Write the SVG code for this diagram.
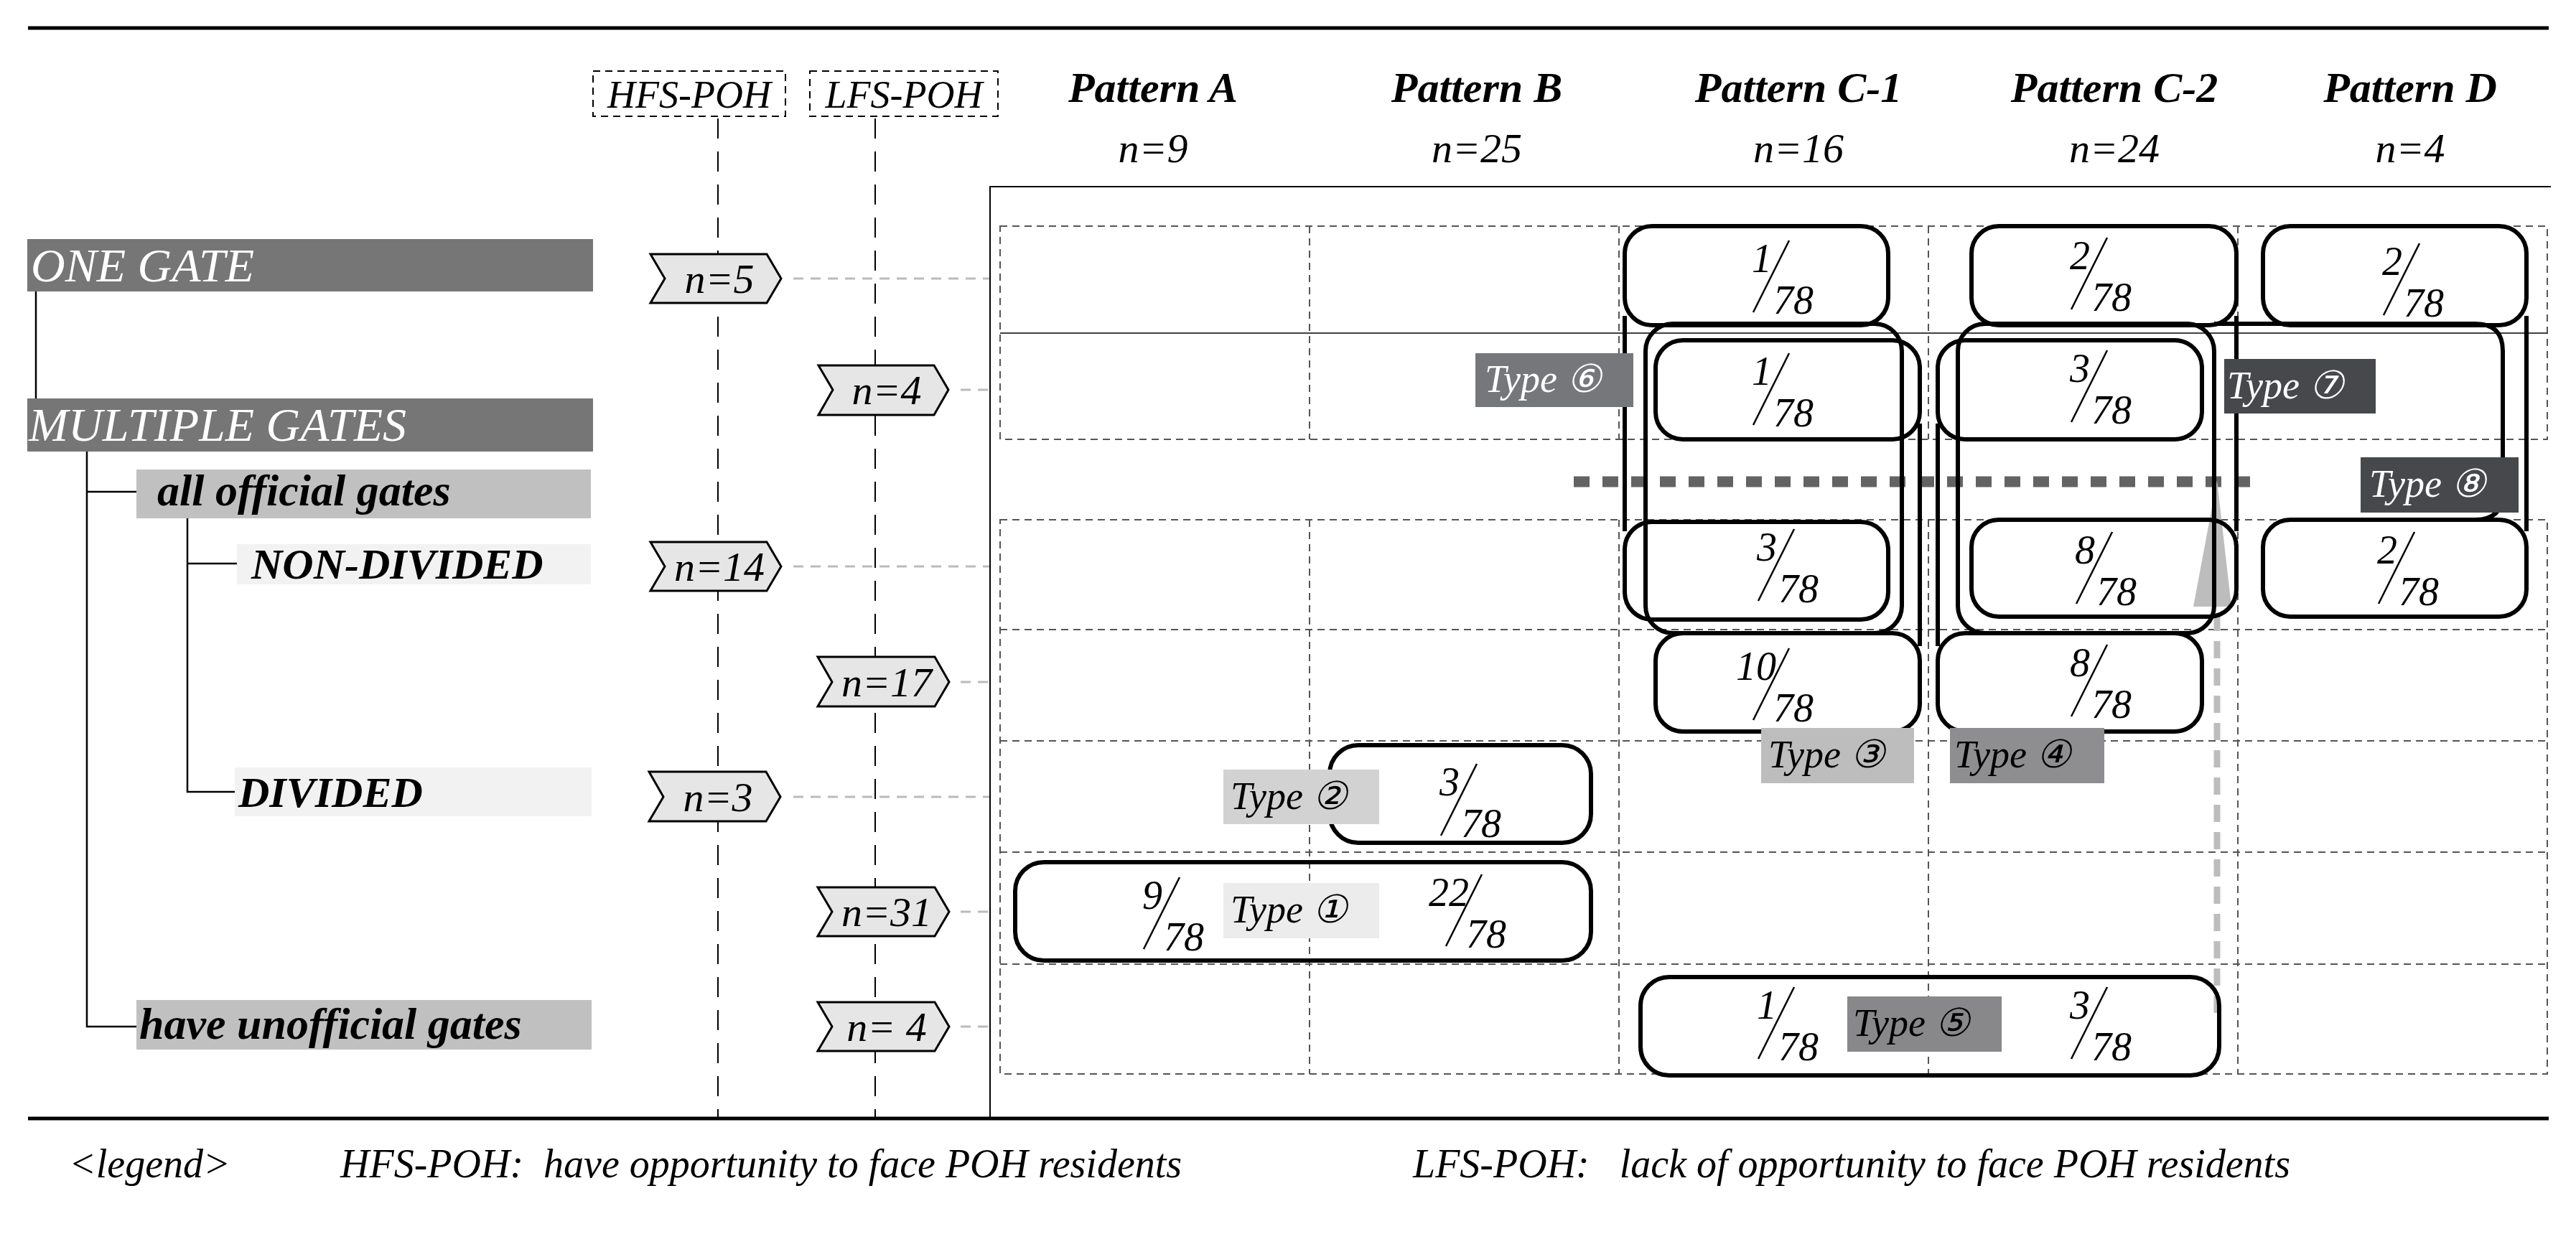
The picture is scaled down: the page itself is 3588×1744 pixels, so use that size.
<svg xmlns="http://www.w3.org/2000/svg" width="3588" height="1744" viewBox="0 0 3588 1744">
<defs>
<style>
text{font-family:"Liberation Serif","DejaVu Serif",serif;font-style:italic}
.hd{font-size:60px;font-weight:bold;text-anchor:middle}
.hn{font-size:58px;text-anchor:middle}
.grid{fill:none;stroke:#555;stroke-width:2;stroke-dasharray:10,7}
.box{fill:none;stroke:#000;stroke-width:6}
.chev{fill:#e6e6e6;stroke:#000;stroke-width:3}
.ct{font-size:58px;text-anchor:middle}
.lead{stroke:#bbb;stroke-width:3;stroke-dasharray:14,10}
.fr{font-size:56px}
.sl{stroke:#000;stroke-width:2.5}
.tl{font-size:54px}
.tree{stroke:#000;stroke-width:2.5;fill:none}
</style>
</defs>
<rect width="3588" height="1744" fill="#fff"/>
<line x1="39" y1="39" x2="3550" y2="39" stroke="#000" stroke-width="5"/>
<line x1="39" y1="1558" x2="3550" y2="1558" stroke="#000" stroke-width="5"/>

<g id="headers">
<rect x="826" y="99" width="268" height="63" fill="none" stroke="#000" stroke-width="2" stroke-dasharray="10,7"/>
<text x="960" y="150" font-size="54" text-anchor="middle">HFS-POH</text>
<rect x="1128" y="99" width="262" height="63" fill="none" stroke="#000" stroke-width="2" stroke-dasharray="10,7"/>
<text x="1259" y="150" font-size="54" text-anchor="middle">LFS-POH</text>
<line x1="1000" y1="165" x2="1000" y2="1556" stroke="#000" stroke-width="2" stroke-dasharray="28,18"/>
<line x1="1219" y1="165" x2="1219" y2="1556" stroke="#000" stroke-width="2" stroke-dasharray="28,18"/>
<text class="hd" x="1606" y="142">Pattern A</text><text class="hn" x="1606" y="226">n=9</text>
<text class="hd" x="2057" y="142">Pattern B</text><text class="hn" x="2057" y="226">n=25</text>
<text class="hd" x="2505" y="142">Pattern C-1</text><text class="hn" x="2505" y="226">n=16</text>
<text class="hd" x="2945" y="142">Pattern C-2</text><text class="hn" x="2945" y="226">n=24</text>
<text class="hd" x="3357" y="142">Pattern D</text><text class="hn" x="3357" y="226">n=4</text>
</g>

<g id="tree">
<path class="tree" d="M50,406 V555 M121,629 V1430 H190 M121,685 H190 M261,722 V1103 H327 M261,785 H330"/>
<g id="one-gate"><rect x="38" y="333" width="788" height="73" fill="#767676"/><text x="43" y="392" font-size="66" fill="#fff">ONE GATE</text></g>
<g id="multiple-gates"><rect x="38" y="555" width="788" height="74" fill="#767676"/><text x="40" y="614" font-size="66" fill="#fff">MULTIPLE GATES</text></g>
<g id="all-official"><rect x="190" y="654" width="633" height="68" fill="#c0c0c0"/><text x="219" y="704" font-size="62" font-weight="bold">all official gates</text></g>
<g id="non-divided"><rect x="330" y="758" width="493" height="56" fill="#f2f2f2"/><text x="350" y="806" font-size="60" font-weight="bold">NON-DIVIDED</text></g>
<g id="divided"><rect x="327" y="1069" width="497" height="68" fill="#f2f2f2"/><text x="332" y="1124" font-size="60" font-weight="bold">DIVIDED</text></g>
<g id="unofficial"><rect x="190" y="1393" width="634" height="69" fill="#c0c0c0"/><text x="194" y="1447" font-size="62" font-weight="bold">have unofficial gates</text></g>
</g>

<g id="chevrons">
<g id="c1"><line class="lead" x1="1105" y1="388" x2="1380" y2="388"/><polygon class="chev" points="906,354 1068,354 1088,388 1068,422 906,422 926,388"/><text class="ct" x="1002" y="408">n=5</text></g>
<g id="c2"><line class="lead" x1="1338" y1="543" x2="1380" y2="543"/><polygon class="chev" points="1140,509 1301,509 1321,543 1301,578 1140,578 1160,543"/><text class="ct" x="1235" y="563">n=4</text></g>
<g id="c3"><line class="lead" x1="1105" y1="789" x2="1380" y2="789"/><polygon class="chev" points="906,755 1068,755 1088,789 1068,823 906,823 926,789"/><text class="ct" x="1002" y="809">n=14</text></g>
<g id="c4"><line class="lead" x1="1338" y1="950" x2="1380" y2="950"/><polygon class="chev" points="1139,915 1302,915 1322,950 1302,984 1139,984 1159,950"/><text class="ct" x="1235" y="970">n=17</text></g>
<g id="c5"><line class="lead" x1="1105" y1="1110" x2="1380" y2="1110"/><polygon class="chev" points="904,1075 1067,1075 1087,1110 1067,1144 904,1144 924,1110"/><text class="ct" x="1000" y="1130">n=3</text></g>
<g id="c6"><line class="lead" x1="1338" y1="1270" x2="1380" y2="1270"/><polygon class="chev" points="1139,1236 1302,1236 1322,1270 1302,1304 1139,1304 1159,1270"/><text class="ct" x="1235" y="1290">n=31</text></g>
<g id="c7"><line class="lead" x1="1338" y1="1430" x2="1380" y2="1430"/><polygon class="chev" points="1139,1396 1302,1396 1322,1430 1302,1464 1139,1464 1159,1430"/><text class="ct" x="1235" y="1450">n= 4</text></g>
</g>

<g id="grid">
<path d="M1379,1556 V260 H3553" fill="none" stroke="#000" stroke-width="2"/>
<rect class="grid" x="1393" y="315" width="2155" height="297"/>
<line x1="1393" y1="464" x2="3548" y2="464" stroke="#000" stroke-width="1.5"/>
<rect class="grid" x="1393" y="724" width="2155" height="772"/>
<path class="grid" d="M1824,315 V612 M2255,315 V612 M2686,315 V612 M3117,315 V612 M1824,724 V1496 M2255,724 V1496 M2686,724 V1496 M3117,724 V1496 M1393,877 H3548 M1393,1032 H3548 M1393,1187 H3548 M1393,1343 H3548"/>
</g>

<g id="connectors">
<line x1="2192" y1="671" x2="3151" y2="671" stroke="#636363" stroke-width="15" stroke-dasharray="22,18"/>
<line x1="3088" y1="1411" x2="3088" y2="845" stroke="#bdbdbd" stroke-width="9" stroke-dasharray="24,14"/>
<polygon points="3088,669 3055,845 3108,845" fill="#bdbdbd"/>
</g>

<g id="groups">
<rect class="box" x="2263" y="315" width="367" height="138" rx="38"/>
<rect class="box" x="2306" y="474" width="368" height="138" rx="38"/>
<rect class="box" x="2263" y="727" width="367" height="136" rx="38"/>
<rect class="box" x="2306" y="882" width="368" height="137" rx="38"/>
<rect class="box" x="2292" y="451" width="357" height="431" rx="38"/>
<line class="box" x1="2263" y1="440" x2="2263" y2="740"/>
<line class="box" x1="2674" y1="590" x2="2674" y2="900"/>
<rect class="box" x="2746" y="315" width="369" height="138" rx="38"/>
<rect class="box" x="2699" y="474" width="368" height="138" rx="38"/>
<rect class="box" x="2746" y="724" width="369" height="135" rx="38"/>
<rect class="box" x="2699" y="882" width="368" height="137" rx="38"/>
<rect class="box" x="2727" y="451" width="357" height="431" rx="38"/>
<line class="box" x1="3115" y1="440" x2="3115" y2="740"/>
<line class="box" x1="2699" y1="590" x2="2699" y2="900"/>
<rect class="box" x="3152" y="315" width="367" height="138" rx="38"/>
<rect class="box" x="3152" y="724" width="367" height="135" rx="38"/>
<line class="box" x1="3519" y1="440" x2="3519" y2="740"/>
<path class="box" d="M3084,451 H3448 Q3486,451 3486,489 V686 Q3486,724 3448,724"/>
<rect class="box" x="2285" y="1361" width="806" height="137" rx="40"/>
<rect class="box" x="1852" y="1038" width="364" height="136" rx="40"/>
<rect class="box" x="1414" y="1201" width="802" height="137" rx="40"/>
</g>

<g id="fractions">
<g transform="translate(2470,387)"><text class="fr" x="-30" y="-8">1</text><line class="sl" x1="22" y1="-52" x2="-28" y2="48"/><text class="fr" x="0" y="50">78</text></g>
<g transform="translate(2470,544)"><text class="fr" x="-30" y="-8">1</text><line class="sl" x1="22" y1="-52" x2="-28" y2="48"/><text class="fr" x="0" y="50">78</text></g>
<g transform="translate(2477,789)"><text class="fr" x="-30" y="-8">3</text><line class="sl" x1="22" y1="-52" x2="-28" y2="48"/><text class="fr" x="0" y="50">78</text></g>
<g transform="translate(2470,955)"><text class="fr" x="-52" y="-8">10</text><line class="sl" x1="22" y1="-52" x2="-28" y2="48"/><text class="fr" x="0" y="50">78</text></g>
<g transform="translate(2913,383)"><text class="fr" x="-30" y="-8">2</text><line class="sl" x1="22" y1="-52" x2="-28" y2="48"/><text class="fr" x="0" y="50">78</text></g>
<g transform="translate(2913,540)"><text class="fr" x="-30" y="-8">3</text><line class="sl" x1="22" y1="-52" x2="-28" y2="48"/><text class="fr" x="0" y="50">78</text></g>
<g transform="translate(2920,793)"><text class="fr" x="-30" y="-8">8</text><line class="sl" x1="22" y1="-52" x2="-28" y2="48"/><text class="fr" x="0" y="50">78</text></g>
<g transform="translate(2913,950)"><text class="fr" x="-30" y="-8">8</text><line class="sl" x1="22" y1="-52" x2="-28" y2="48"/><text class="fr" x="0" y="50">78</text></g>
<g transform="translate(3348,391)"><text class="fr" x="-30" y="-8">2</text><line class="sl" x1="22" y1="-52" x2="-28" y2="48"/><text class="fr" x="0" y="50">78</text></g>
<g transform="translate(3341,793)"><text class="fr" x="-30" y="-8">2</text><line class="sl" x1="22" y1="-52" x2="-28" y2="48"/><text class="fr" x="0" y="50">78</text></g>
<g transform="translate(2035,1116)"><text class="fr" x="-30" y="-8">3</text><line class="sl" x1="22" y1="-52" x2="-28" y2="48"/><text class="fr" x="0" y="50">78</text></g>
<g transform="translate(1621,1274)"><text class="fr" x="-30" y="-8">9</text><line class="sl" x1="22" y1="-52" x2="-28" y2="48"/><text class="fr" x="0" y="50">78</text></g>
<g transform="translate(2042,1270)"><text class="fr" x="-52" y="-8">22</text><line class="sl" x1="22" y1="-52" x2="-28" y2="48"/><text class="fr" x="0" y="50">78</text></g>
<g transform="translate(2477,1427)"><text class="fr" x="-30" y="-8">1</text><line class="sl" x1="22" y1="-52" x2="-28" y2="48"/><text class="fr" x="0" y="50">78</text></g>
<g transform="translate(2913,1427)"><text class="fr" x="-30" y="-8">3</text><line class="sl" x1="22" y1="-52" x2="-28" y2="48"/><text class="fr" x="0" y="50">78</text></g>
</g>

<g id="types">
<g id="t1"><rect x="1704" y="1230" width="217" height="77" fill="#ececec"/><text class="tl" x="1714" y="1285">Type ①</text></g>
<g id="t2"><rect x="1704" y="1072" width="217" height="76" fill="#d2d2d2"/><text class="tl" x="1714" y="1127">Type ②</text></g>
<g id="t3"><rect x="2453" y="1014" width="213" height="77" fill="#bdbdbd"/><text class="tl" x="2463" y="1069">Type ③</text></g>
<g id="t4"><rect x="2716" y="1014" width="215" height="77" fill="#8e8e90"/><text class="tl" x="2722" y="1069">Type ④</text></g>
<g id="t5"><rect x="2573" y="1388" width="215" height="77" fill="#88888a"/><text class="tl" x="2581" y="1443">Type ⑤</text></g>
<g id="t6"><rect x="2055" y="492" width="220" height="75" fill="#76777b"/><text class="tl" x="2068" y="546" fill="#fff">Type ⑥</text></g>
<g id="t7"><rect x="3098" y="500" width="211" height="76" fill="#47484c"/><text class="tl" x="3102" y="555" fill="#fff">Type ⑦</text></g>
<g id="t8"><rect x="3288" y="637" width="220" height="77" fill="#47484c"/><text class="tl" x="3300" y="692" fill="#fff">Type ⑧</text></g>
</g>

<g id="legend">
<text x="96" y="1640" font-size="56">&lt;legend&gt;</text>
<text x="474" y="1640" font-size="56" xml:space="preserve">HFS-POH:  have opportunity to face POH residents</text>
<text x="1968" y="1640" font-size="56" xml:space="preserve">LFS-POH:   lack of opportunity to face POH residents</text>
</g>
</svg>
